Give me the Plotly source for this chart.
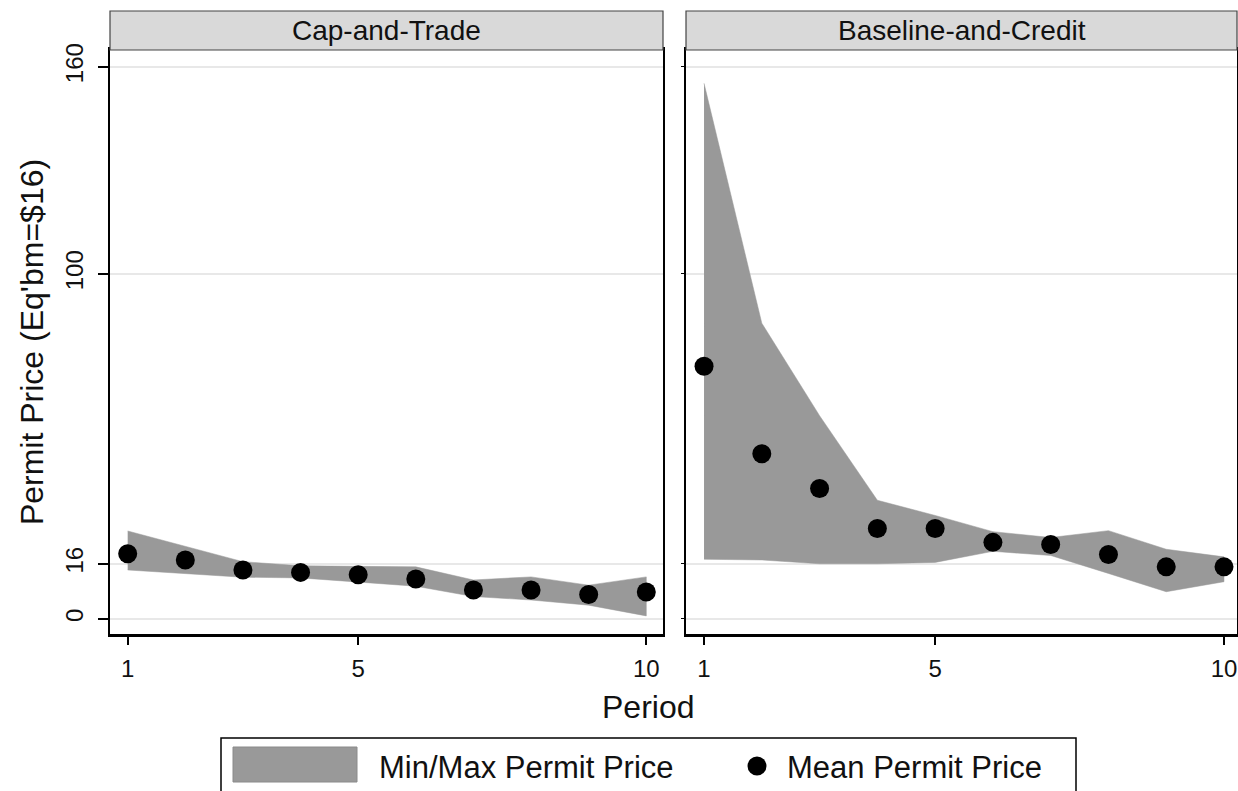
import plotly.graph_objects as go

# ---------------- data ----------------
periods = [1, 2, 3, 4, 5, 6, 7, 8, 9, 10]

ct_mean = [18.9, 17.1, 14.2, 13.5, 12.8, 11.6, 8.4, 8.4, 7.1, 7.8]
ct_max = [25.5, 21.0, 16.6, 15.4, 15.2, 15.1, 11.3, 12.2, 9.8, 12.2]
ct_min = [14.2, 13.2, 12.1, 11.9, 10.8, 9.5, 6.5, 5.5, 4.0, 0.9]

bc_mean = [73.2, 47.9, 37.8, 26.2, 26.2, 22.2, 21.6, 18.7, 15.1, 15.1]
bc_max = [155.2, 85.7, 58.9, 34.4, 30.0, 25.3, 23.6, 25.6, 20.2, 18.0]
bc_min = [17.3, 17.1, 16.0, 16.0, 16.4, 19.6, 18.4, 13.2, 7.9, 10.8]

panel_titles = ["Cap-and-Trade", "Baseline-and-Credit"]
y_ticks = [0, 16, 100, 160]
x_ticks = [1, 5, 10]
equilibrium = 16

# ---------------- layout helpers ----------------
W, H = 1238, 791
FONT = "Liberation Sans, Arial, sans-serif"


def px(x):
    return x / W


def py(y):
    return 1 - y / H


BAND = "#999999"

fig = go.Figure()

for i, (mn, mx, me) in enumerate([(ct_min, ct_max, ct_mean), (bc_min, bc_max, bc_mean)]):
    xa = "x" if i == 0 else "x2"
    ya = "y" if i == 0 else "y2"
    fig.add_trace(go.Scatter(
        x=periods + periods[::-1], y=mx + mn[::-1],
        fill="toself", fillcolor=BAND, mode="lines",
        line=dict(color=BAND, width=0.5),
        xaxis=xa, yaxis=ya, showlegend=False, hoverinfo="skip"))
    fig.add_trace(go.Scatter(
        x=periods, y=me, mode="markers",
        marker=dict(color="black", size=19),
        xaxis=xa, yaxis=ya, showlegend=False))

top_px, bot_px = 50, 634
dom_y = [py(bot_px), py(top_px)]
yrange = [-4.35, 164.85]

common_x = dict(
    tickvals=x_ticks, ticks="outside", ticklen=8, tickwidth=1.5, tickcolor="black",
    showgrid=False, zeroline=False, showline=True, linewidth=3, linecolor="black",
    mirror=True, tickfont=dict(family=FONT, size=24, color="#111"),
    ticklabelstandoff=3, automargin=False,
)

fig.update_layout(
    width=W, height=H,
    margin=dict(l=0, r=0, t=0, b=0, autoexpand=False),
    paper_bgcolor="white", plot_bgcolor="white",
    font=dict(family=FONT, color="#111"),
    xaxis=dict(domain=[px(110), px(663)], range=[0.693, 10.29], anchor="y", **common_x),
    xaxis2=dict(domain=[px(686), px(1237)], range=[0.688, 10.225], anchor="y2", **common_x),
    yaxis=dict(
        domain=dom_y, range=yrange, anchor="x", automargin=False,
        tickvals=y_ticks, ticktext=[str(v) for v in y_ticks],
        tickangle=-90, ticks="outside", ticklen=10, tickwidth=1.5, tickcolor="black",
        tickfont=dict(family=FONT, size=24, color="#111"), ticklabelstandoff=5,
        showgrid=True, gridcolor="#e8e8e8", gridwidth=1.5, zeroline=False,
        showline=True, linewidth=2, linecolor="black", mirror=True,
        title=dict(text="Permit Price (Eq'bm=$16)", font=dict(family=FONT, size=32, color="#111"),
                   standoff=8),
    ),
    yaxis2=dict(
        domain=dom_y, range=yrange, anchor="x2", matches="y", automargin=False,
        tickvals=y_ticks, showticklabels=False,
        ticks="outside", ticklen=3, tickwidth=1, tickcolor="black",
        showgrid=True, gridcolor="#e8e8e8", gridwidth=1.5, zeroline=False,
        showline=True, linewidth=2, linecolor="black", mirror=True,
    ),
)

shapes = []
annotations = []
# equilibrium reference lines
for xr, yr in [("x domain", "y"), ("x2 domain", "y2")]:
    shapes.append(dict(type="line", xref=xr, yref=yr, x0=0, x1=1, y0=equilibrium, y1=equilibrium,
                       line=dict(color="black", width=1.5), layer="below"))

# strips
for (x0, x1), title in zip([(110, 663), (686, 1237)], panel_titles):
    shapes.append(dict(type="rect", xref="paper", yref="paper",
                       x0=px(x0), x1=px(x1), y0=py(50), y1=py(11),
                       fillcolor="#d9d9d9", line=dict(color="#444", width=1.2)))
    annotations.append(dict(xref="paper", yref="paper", x=px((x0 + x1) / 2), y=py(30),
                            text=title, showarrow=False, xanchor="center", yanchor="middle",
                            font=dict(family=FONT, size=28, color="#111")))

# x-axis title
annotations.append(dict(xref="paper", yref="paper", x=px(648), y=py(707), text="Period",
                        showarrow=False, xanchor="center", yanchor="middle",
                        font=dict(family=FONT, size=32, color="#111")))

# legend (drawn manually to reproduce the large key)
shapes.append(dict(type="rect", xref="paper", yref="paper", x0=px(221), x1=px(1076),
                   y0=py(800), y1=py(738), fillcolor="white", line=dict(color="black", width=1.5)))
shapes.append(dict(type="rect", xref="paper", yref="paper", x0=px(233), x1=px(357),
                   y0=py(782), y1=py(747), fillcolor=BAND, line=dict(color="#8a8a8a", width=1)))
shapes.append(dict(type="circle", xref="paper", yref="paper", x0=px(747.5), x1=px(766.5),
                   y0=py(775.5), y1=py(756.5), fillcolor="black", line=dict(color="black", width=0)))
annotations.append(dict(xref="paper", yref="paper", x=px(377), y=py(767), text="Min/Max Permit Price",
                        showarrow=False, xanchor="left", yanchor="middle",
                        font=dict(family=FONT, size=31, color="#111")))
annotations.append(dict(xref="paper", yref="paper", x=px(785), y=py(767), text="Mean Permit Price",
                        showarrow=False, xanchor="left", yanchor="middle",
                        font=dict(family=FONT, size=31, color="#111")))

fig.update_layout(shapes=shapes, annotations=annotations)
fig.write_html("out.html")
